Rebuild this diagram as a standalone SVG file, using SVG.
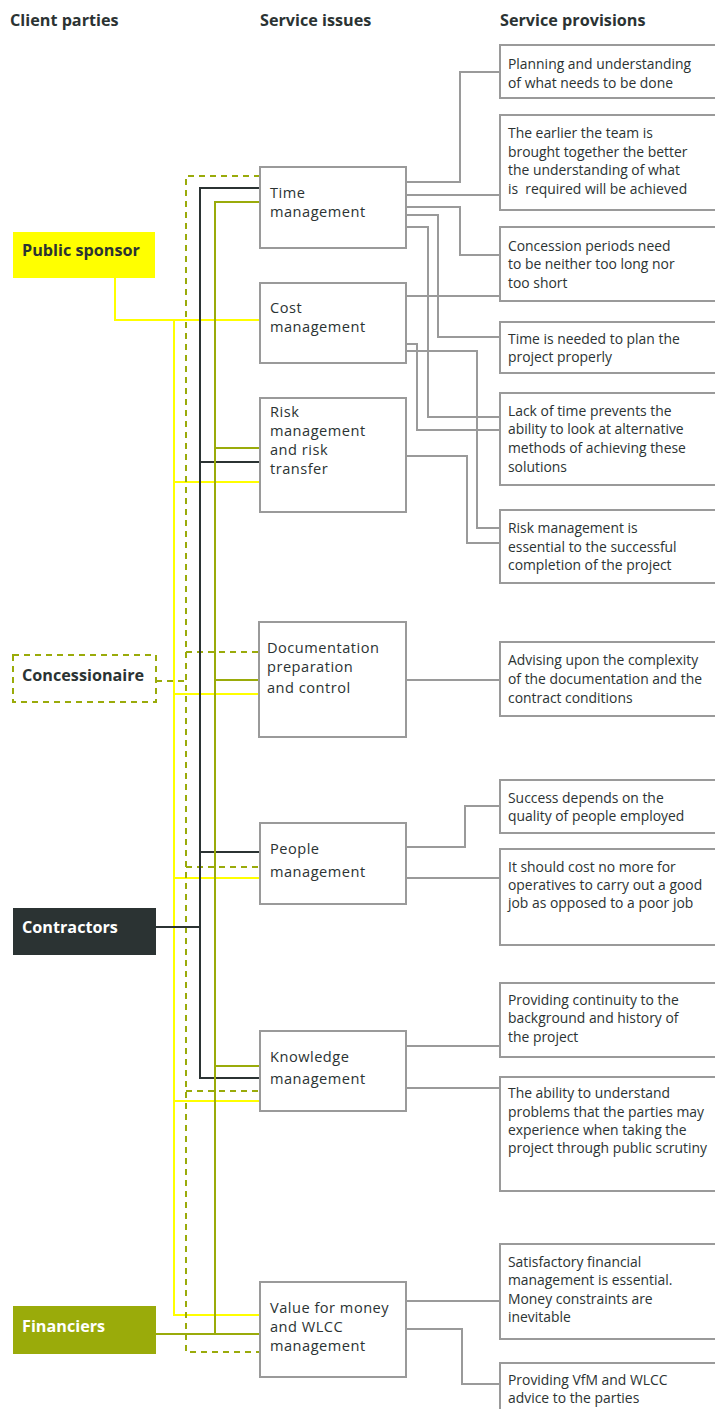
<svg xmlns="http://www.w3.org/2000/svg" width="715" height="1409" viewBox="0 0 715 1409">
  <style>
    .hdr { font-family: "Open Sans", "Noto Sans", sans-serif; font-weight: 700; font-size: 16.2px; fill: #2b3333; }
    .issue-box { fill: #ffffff; stroke: #9a9a9a; stroke-width: 2; }
    .issue { font-family: "Open Sans", "Noto Sans", sans-serif; font-size: 14.6px; letter-spacing: 0.5px; fill: #2b3333; }
    .prov-box { fill: #ffffff; stroke: #9a9a9a; stroke-width: 2; }
    .prov { font-family: "Open Sans", "Noto Sans", sans-serif; font-size: 13.9px; fill: #2b3333; }
    .party { font-family: "Open Sans", "Noto Sans", sans-serif; font-weight: 700; font-size: 16.2px; }
    .gray { fill: none; stroke: #9a9a9a; stroke-width: 2; }
    .yel { fill: none; stroke: #ffff00; stroke-width: 2; }
    .dash { fill: none; stroke: #9aab0a; stroke-width: 2; stroke-dasharray: 6 5; }
    .dark { fill: none; stroke: #2b3333; stroke-width: 2; }
    .olive { fill: none; stroke: #9aab0a; stroke-width: 2; }
  </style>

  <!-- column headings -->
  <g id="headings">
    <text class="hdr" x="10" y="26">Client parties</text>
    <text class="hdr" x="260" y="26">Service issues</text>
    <text class="hdr" x="500" y="26">Service provisions</text>
  </g>

  <!-- connectors -->
  <g id="connectors">
    <!-- provisions links (gray) -->
    <polyline class="gray" points="406,182 460,182 460,72 500,72"/>
    <polyline class="gray" points="406,195 500,195"/>
    <polyline class="gray" points="406,207 460,207 460,255 500,255"/>
    <polyline class="gray" points="406,215 438,215 438,337 500,337"/>
    <polyline class="gray" points="404,227 428,227 428,417 500,417"/>
    <polyline class="gray" points="406,296 500,296"/>
    <polyline class="gray" points="406,344 417,344 417,430 500,430"/>
    <polyline class="gray" points="406,351 477,351 477,528 500,528"/>
    <polyline class="gray" points="406,456 467,456 467,543 500,543"/>
    <polyline class="gray" points="406,680 500,680"/>
    <polyline class="gray" points="406,847 465,847 465,806 500,806"/>
    <polyline class="gray" points="406,878 500,878"/>
    <polyline class="gray" points="406,1046 500,1046"/>
    <polyline class="gray" points="406,1088 500,1088"/>
    <polyline class="gray" points="406,1301 500,1301"/>
    <polyline class="gray" points="406,1329 462,1329 462,1384 500,1384"/>

    <!-- public sponsor (yellow) -->
    <polyline class="yel" points="115,278 115,320 260,320"/>
    <polyline class="yel" points="174,320 174,1315 260,1315"/>
    <line class="yel" x1="174" y1="482" x2="260" y2="482"/>
    <line class="yel" x1="174" y1="694" x2="260" y2="694"/>
    <line class="yel" x1="174" y1="878" x2="260" y2="878"/>
    <line class="yel" x1="174" y1="1101" x2="260" y2="1101"/>

    <!-- concessionaire (dashed olive) -->
    <polyline class="dash" points="260,176 186,176 186,1352 260,1352"/>
    <line class="dash" x1="156" y1="681" x2="186" y2="681"/>
    <line class="dash" x1="186" y1="652" x2="260" y2="652"/>
    <line class="dash" x1="186" y1="867" x2="260" y2="867"/>
    <line class="dash" x1="186" y1="1091" x2="260" y2="1091"/>

    <!-- contractors (dark) -->
    <polyline class="dark" points="260,188 200,188 200,1078 260,1078"/>
    <line class="dark" x1="156" y1="927" x2="200" y2="927"/>
    <line class="dark" x1="200" y1="462" x2="260" y2="462"/>
    <line class="dark" x1="200" y1="852" x2="260" y2="852"/>

    <!-- financiers (olive) -->
    <polyline class="olive" points="260,202 215,202 215,1334"/>
    <line class="olive" x1="156" y1="1334" x2="260" y2="1334"/>
    <line class="olive" x1="215" y1="448" x2="260" y2="448"/>
    <line class="olive" x1="215" y1="680" x2="260" y2="680"/>
    <line class="olive" x1="215" y1="1066" x2="260" y2="1066"/>
  </g>

  <!-- client parties -->
  <g id="public-sponsor">
    <rect x="13" y="232" width="142" height="46" fill="#ffff00"/>
    <text class="party" x="22" y="256" fill="#2b3333">Public sponsor</text>
  </g>
  <g id="concessionaire">
    <rect x="13" y="655" width="143" height="47" fill="#ffffff" stroke="#9aab0a" stroke-width="2" stroke-dasharray="6 5"/>
    <text class="party" x="22" y="681" fill="#2b3333">Concessionaire</text>
  </g>
  <g id="contractors">
    <rect x="13" y="908" width="143" height="47" fill="#2b3333"/>
    <text class="party" x="22" y="933" fill="#ffffff">Contractors</text>
  </g>
  <g id="financiers">
    <rect x="13" y="1306" width="143" height="48" fill="#9aab0a"/>
    <text class="party" x="22" y="1332" fill="#ffffff">Financiers</text>
  </g>

  <!-- service issues -->
  <g id="time-management">
    <rect class="issue-box" x="260" y="167" width="146" height="81"/>
    <text class="issue" x="270" y="198">Time</text>
    <text class="issue" x="270" y="217">management</text>
  </g>
  <g id="cost-management">
    <rect class="issue-box" x="260" y="283" width="146" height="80"/>
    <text class="issue" x="270" y="313">Cost</text>
    <text class="issue" x="270" y="332">management</text>
  </g>
  <g id="risk-management">
    <rect class="issue-box" x="260" y="398" width="146" height="114"/>
    <text class="issue" x="270" y="417">Risk</text>
    <text class="issue" x="270" y="436">management</text>
    <text class="issue" x="270" y="455">and risk</text>
    <text class="issue" x="270" y="474">transfer</text>
  </g>
  <g id="documentation">
    <rect class="issue-box" x="259" y="622" width="147" height="115"/>
    <text class="issue" x="267" y="653">Documentation</text>
    <text class="issue" x="267" y="672">preparation</text>
    <text class="issue" x="267" y="693">and control</text>
  </g>
  <g id="people-management">
    <rect class="issue-box" x="260" y="823" width="146" height="81"/>
    <text class="issue" x="270" y="854">People</text>
    <text class="issue" x="270" y="877">management</text>
  </g>
  <g id="knowledge-management">
    <rect class="issue-box" x="260" y="1031" width="146" height="80"/>
    <text class="issue" x="270" y="1062">Knowledge</text>
    <text class="issue" x="270" y="1084">management</text>
  </g>
  <g id="vfm-management">
    <rect class="issue-box" x="260" y="1282" width="146" height="95"/>
    <text class="issue" x="270" y="1313">Value for money</text>
    <text class="issue" x="270" y="1332">and WLCC</text>
    <text class="issue" x="270" y="1351">management</text>
  </g>

  <!-- service provisions -->
  <g id="prov-planning">
    <rect class="prov-box" x="500" y="45" width="230" height="53"/>
    <text class="prov" x="508" y="69">Planning and understanding</text>
    <text class="prov" x="508" y="88">of what needs to be done</text>
  </g>
  <g id="prov-team">
    <rect class="prov-box" x="500" y="115" width="230" height="95"/>
    <text class="prov" x="508" y="138">The earlier the team is</text>
    <text class="prov" x="508" y="157">brought together the better</text>
    <text class="prov" x="508" y="175">the understanding of what</text>
    <text class="prov" x="508" y="194" xml:space="preserve">is  required will be achieved</text>
  </g>
  <g id="prov-concession">
    <rect class="prov-box" x="500" y="227" width="230" height="74"/>
    <text class="prov" x="508" y="251">Concession periods need</text>
    <text class="prov" x="508" y="269">to be neither too long nor</text>
    <text class="prov" x="508" y="288">too short</text>
  </g>
  <g id="prov-time">
    <rect class="prov-box" x="500" y="322" width="230" height="51"/>
    <text class="prov" x="508" y="344">Time is needed to plan the</text>
    <text class="prov" x="508" y="362">project properly</text>
  </g>
  <g id="prov-lack">
    <rect class="prov-box" x="500" y="393" width="230" height="92"/>
    <text class="prov" x="508" y="416">Lack of time prevents the</text>
    <text class="prov" x="508" y="434">ability to look at alternative</text>
    <text class="prov" x="508" y="453">methods of achieving these</text>
    <text class="prov" x="508" y="472">solutions</text>
  </g>
  <g id="prov-risk">
    <rect class="prov-box" x="500" y="510" width="230" height="73"/>
    <text class="prov" x="508" y="533">Risk management is</text>
    <text class="prov" x="508" y="552">essential to the successful</text>
    <text class="prov" x="508" y="570">completion of the project</text>
  </g>
  <g id="prov-advising">
    <rect class="prov-box" x="500" y="642" width="230" height="74"/>
    <text class="prov" x="508" y="665">Advising upon the complexity</text>
    <text class="prov" x="508" y="684">of the documentation and the</text>
    <text class="prov" x="508" y="703">contract conditions</text>
  </g>
  <g id="prov-success">
    <rect class="prov-box" x="500" y="780" width="230" height="53"/>
    <text class="prov" x="508" y="803">Success depends on the</text>
    <text class="prov" x="508" y="821">quality of people employed</text>
  </g>
  <g id="prov-cost">
    <rect class="prov-box" x="500" y="849" width="230" height="96"/>
    <text class="prov" x="508" y="872">It should cost no more for</text>
    <text class="prov" x="508" y="890">operatives to carry out a good</text>
    <text class="prov" x="508" y="908">job as opposed to a poor job</text>
  </g>
  <g id="prov-continuity">
    <rect class="prov-box" x="500" y="983" width="230" height="74"/>
    <text class="prov" x="508" y="1005">Providing continuity to the</text>
    <text class="prov" x="508" y="1023">background and history of</text>
    <text class="prov" x="508" y="1042">the project</text>
  </g>
  <g id="prov-scrutiny">
    <rect class="prov-box" x="500" y="1077" width="230" height="114"/>
    <text class="prov" x="508" y="1098">The ability to understand</text>
    <text class="prov" x="508" y="1117">problems that the parties may</text>
    <text class="prov" x="508" y="1135">experience when taking the</text>
    <text class="prov" x="508" y="1153">project through public scrutiny</text>
  </g>
  <g id="prov-financial">
    <rect class="prov-box" x="500" y="1244" width="230" height="95"/>
    <text class="prov" x="508" y="1267">Satisfactory financial</text>
    <text class="prov" x="508" y="1285">management is essential.</text>
    <text class="prov" x="508" y="1304">Money constraints are</text>
    <text class="prov" x="508" y="1322">inevitable</text>
  </g>
  <g id="prov-vfm">
    <rect class="prov-box" x="500" y="1363" width="230" height="60"/>
    <text class="prov" x="508" y="1385">Providing VfM and WLCC</text>
    <text class="prov" x="508" y="1403">advice to the parties</text>
  </g>
</svg>
